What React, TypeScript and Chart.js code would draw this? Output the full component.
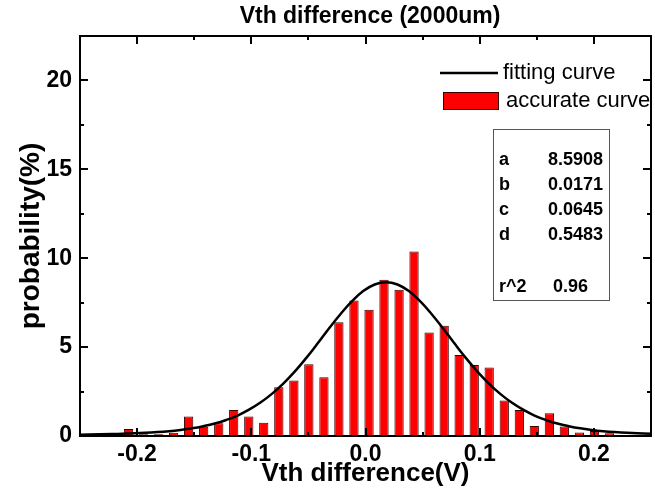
import React, { useEffect, useRef } from 'react';
import { Chart, registerables } from 'chart.js';

Chart.register(...registerables);

// ---- data ----
const binCenters = [
  -0.247, -0.2338, -0.2207, -0.2075, -0.1943, -0.1812, -0.168, -0.1549, -0.1417,
  -0.1285, -0.1154, -0.1022, -0.0891, -0.0759, -0.0627, -0.0496, -0.0364, -0.0233,
  -0.0101, 0.0031, 0.0162, 0.0294, 0.0425, 0.0557, 0.0689, 0.082, 0.0952, 0.1083,
  0.1215, 0.1347, 0.1478, 0.161, 0.1741, 0.1873, 0.2005, 0.2136,
];
const probability = [
  0.1, 0.1, 0.1, 0.39, 0.1, 0.1, 0.18, 1.09, 0.52,
  0.72, 1.46, 1.09, 0.75, 2.74, 3.12, 4.04, 3.31, 6.4,
  7.62, 7.1, 8.79, 8.23, 10.38, 5.82, 6.2, 4.56, 4.0, 3.85,
  1.99, 1.46, 0.56, 1.28, 0.53, 0.19, 0.28, 0.15,
];

const fitX = [
  -0.262, -0.242, -0.222, -0.202, -0.182, -0.172, -0.162, -0.152, -0.142, -0.132,
  -0.122, -0.112, -0.102, -0.092, -0.082, -0.072, -0.062, -0.052, -0.042, -0.032,
  -0.022, -0.012, -0.002, 0.008, 0.018, 0.028, 0.038, 0.048, 0.058, 0.068,
  0.078, 0.088, 0.098, 0.108, 0.118, 0.128, 0.138, 0.148, 0.158, 0.168,
  0.178, 0.188, 0.198, 0.208, 0.218, 0.238, 0.258,
];
const fitY = [
  0.07, 0.08, 0.11, 0.15, 0.22, 0.27, 0.34, 0.43, 0.55, 0.7,
  0.9, 1.15, 1.48, 1.88, 2.37, 2.95, 3.62, 4.38, 5.2, 6.05,
  6.85, 7.57, 8.15, 8.52, 8.65, 8.52, 8.15, 7.57, 6.85, 6.05,
  5.2, 4.38, 3.62, 2.95, 2.37, 1.88, 1.48, 1.15, 0.9, 0.7,
  0.55, 0.43, 0.34, 0.27, 0.22, 0.15, 0.11,
];

const xTickValues = [-0.2, -0.1, 0, 0.1, 0.2];
const xMinorTicks = [-0.15, -0.05, 0.05, 0.15];
const yTickValues = [0, 5, 10, 15, 20];
const yMinorTicks = [2.5, 7.5, 12.5, 17.5];
const xRange = [-0.25, 0.25];
const yRange = [0, 22.5];

const chartTitle = 'Vth difference (2000um)';
const xTitle = 'Vth difference(V)';
const yTitle = 'probability(%)';
const legendLabels = ['fitting curve', 'accurate curve'];
const paramNames = ['a', 'b', 'c', 'd'];
const paramValues = ['8.5908', '0.0171', '0.0645', '0.5483'];
const r2Label = 'r^2';
const r2Value = '0.96';

const FONT = '"Liberation Sans", Arial, Helvetica, sans-serif';

const decorPlugin = {
  id: 'decor',
  afterDatasetsDraw(chart: any) {
    const ctx = chart.ctx;
    const { left, right, top, bottom } = chart.chartArea;
    const xs = chart.scales.x;
    const ys = chart.scales.y;
    ctx.save();
    ctx.strokeStyle = '#000';
    ctx.lineWidth = 2;
    ctx.strokeRect(left, top, right - left, bottom - top);
    const major = 8;
    const minor = 4;
    ctx.beginPath();
    const xt = (v: number, len: number) => {
      const p = Math.round(xs.getPixelForValue(v));
      ctx.moveTo(p, bottom);
      ctx.lineTo(p, bottom - len);
      ctx.moveTo(p, top);
      ctx.lineTo(p, top + len);
    };
    const yt = (v: number, len: number) => {
      const p = Math.round(ys.getPixelForValue(v));
      ctx.moveTo(left, p);
      ctx.lineTo(left + len, p);
      ctx.moveTo(right, p);
      ctx.lineTo(right - len, p);
    };
    xTickValues.forEach((v) => xt(v, major));
    xMinorTicks.forEach((v) => xt(v, minor));
    yTickValues.forEach((v) => yt(v, major));
    yMinorTicks.forEach((v) => yt(v, minor));
    ctx.stroke();
    ctx.restore();
  },
  afterDraw(chart: any) {
    const ctx = chart.ctx;
    ctx.save();
    // title
    ctx.fillStyle = '#000';
    ctx.font = `bold 23px ${FONT}`;
    ctx.textAlign = 'center';
    ctx.textBaseline = 'middle';
    ctx.fillText(chartTitle, 370, 17);

    // legend
    ctx.strokeStyle = '#000';
    ctx.lineWidth = 2.5;
    ctx.beginPath();
    ctx.moveTo(440, 73);
    ctx.lineTo(498, 73);
    ctx.stroke();
    ctx.fillStyle = '#ff0000';
    ctx.fillRect(443, 92, 56, 18);
    ctx.strokeStyle = '#3a0000';
    ctx.lineWidth = 1;
    ctx.strokeRect(443.5, 92.5, 55, 17);
    ctx.fillStyle = '#000';
    ctx.font = `22px ${FONT}`;
    ctx.textAlign = 'left';
    ctx.fillText(legendLabels[0], 503, 73);
    ctx.fillText(legendLabels[1], 506, 101);

    // parameter box
    ctx.strokeStyle = '#555';
    ctx.lineWidth = 1;
    ctx.strokeRect(493.5, 129.5, 116, 171);
    ctx.font = `bold 18px ${FONT}`;
    ctx.fillStyle = '#000';
    const rowsY = [160, 185, 210, 235];
    paramNames.forEach((n, i) => {
      ctx.textAlign = 'left';
      ctx.fillText(n, 499, rowsY[i]);
      ctx.textAlign = 'right';
      ctx.fillText(paramValues[i], 603, rowsY[i]);
    });
    ctx.textAlign = 'left';
    ctx.fillText(r2Label, 499, 287);
    ctx.fillText(r2Value, 553, 287);
    ctx.restore();
  },
};

export default function App() {
  const ref = useRef<HTMLCanvasElement | null>(null);

  useEffect(() => {
    document.body.style.margin = '0';
    const canvas = ref.current;
    if (!canvas) return;
    const chart = new Chart(canvas, {
      data: {
        datasets: [
          {
            type: 'line',
            label: legendLabels[0],
            data: fitX.map((x, i) => ({ x, y: fitY[i] })),
            borderColor: '#000',
            borderWidth: 2.5,
            pointRadius: 0,
            tension: 0.4,
            order: 0,
          } as any,
          {
            type: 'bar',
            label: legendLabels[1],
            data: binCenters.map((x, i) => ({ x, y: probability[i] })),
            backgroundColor: '#ff0000',
            borderColor: '#3a0000',
            borderWidth: 1,
            barPercentage: 0.62,
            categoryPercentage: 1,
            order: 1,
          } as any,
        ],
      },
      options: {
        responsive: false,
        animation: false,
        devicePixelRatio: 1,
        layout: { padding: { top: 36, right: 4, left: 0, bottom: 0 } },
        plugins: {
          legend: { display: false },
          title: { display: false },
          tooltip: { enabled: false },
        },
        scales: {
          x: {
            type: 'linear',
            min: xRange[0],
            max: xRange[1],
            offset: false,
            grid: { display: false, drawTicks: false },
            border: { display: false },
            afterBuildTicks: (s: any) => {
              s.ticks = xTickValues.map((v) => ({ value: v }));
            },
            afterFit: (s: any) => {
              s.height = 57;
            },
            ticks: {
              color: '#000',
              font: { family: FONT, size: 23, weight: 'bold' },
              padding: 5,
              maxRotation: 0,
              callback: (v: any) => Number(v).toFixed(1),
            },
            title: {
              display: true,
              text: xTitle,
              color: '#000',
              font: { family: FONT, size: 26, weight: 'bold' },
              padding: { top: 0, bottom: 4 },
            },
          },
          y: {
            type: 'linear',
            min: yRange[0],
            max: yRange[1],
            grid: { display: false, drawTicks: false },
            border: { display: false },
            afterBuildTicks: (s: any) => {
              s.ticks = yTickValues.map((v) => ({ value: v }));
            },
            afterFit: (s: any) => {
              s.width = 80;
            },
            ticks: {
              color: '#000',
              font: { family: FONT, size: 23, weight: 'bold' },
              padding: 8,
              callback: (v: any) => String(v),
            },
            title: {
              display: true,
              text: yTitle,
              color: '#000',
              font: { family: FONT, size: 28, weight: 'bold' },
              padding: { top: 14, bottom: 0 },
            },
          },
        },
      } as any,
      plugins: [decorPlugin],
    });
    return () => chart.destroy();
  }, []);

  return <canvas ref={ref} width={655} height={493} style={{ display: 'block' }} />;
}
